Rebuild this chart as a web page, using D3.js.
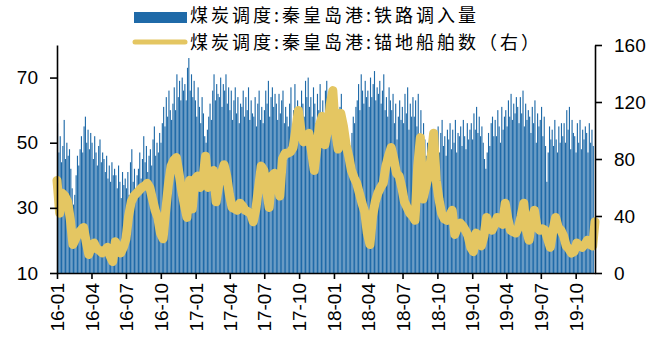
<!DOCTYPE html>
<html>
<head>
<meta charset="utf-8">
<script src="https://cdn.jsdelivr.net/npm/d3@7"></script>
<style>
  body { margin: 0; background: #fff; }
  svg text { font-family: "Liberation Sans", Arial, sans-serif; }
  .legend text { font-family: "Noto Sans CJK SC", sans-serif; letter-spacing: 3px; }
</style>
</head>
<body>
<div id="chart"></div>
<script>
// Series names
var barName = '煤炭调度:秦皇岛港:铁路调入量'
var lineName = '煤炭调度:秦皇岛港:锚地船舶数（右）'

// Railway inflow, one value every half week from 2016-01-01 (left axis)
var railStart = '2016-01-01'
var railValues = [
  56,47,52,44,49,57,45,50,46, 48,42,36,31,34,40,46,43,48, 52,47,55,58,50,54,48,53,
  50,45,52,47,43,49,51,44,47, 45,41,46,39,43,38,44,40,42, 40,36,43,38,33,41,37,39,
  36,41,34,44,48,38,42,35,40, 42,47,39,45,52,44,49,41,46, 48,43,51,55,46,50,47,53,
  50,56,61,55,64,58,66,60,57, 62,67,60,71,64,69,63,70,66, 68,63,73,76,66,71,64,69,
  63,58,67,61,56,64,59,52,50, 54,58,62,57,66,71,63,68,65, 64,70,61,68,66,71,62,67,
  60,66,57,63,67,59,64,56,62, 61,66,58,64,60,67,57,63,59, 58,64,55,62,66,57,61,56,
  60,66,62,69,58,64,67,61,65, 62,57,65,59,63,66,56,61,58, 55,62,67,53,60,68,57,63,
  60,56,66,62,58,69,64,70,61, 64,58,67,62,56,65,60,68,59, 63,57,66,69,60,64,58,62,
  60,55,64,58,52,61,65,56,59, 57,52,48,50,46,53,58,56,61, 63,68,60,71,66,62,69,64,
  66,61,70,64,68,72,63,67,65, 69,62,66,71,60,64,58,67,63, 60,65,56,62,51,58,63,57,
  61,56,65,59,67,54,62,58,64, 58,63,55,65,52,60,48,56,51, 46,50,42,53,44,40,48,45,
  50,55,47,53,57,49,52,46,54, 51,56,48,54,50,57,47,53,52, 55,49,57,52,48,56,51,54,
  56,51,59,54,61,53,58,52,55, 50,45,42,47,53,49,56,58,52, 57,52,60,55,50,61,54,58,
  60,55,63,58,65,57,62,59,64, 61,56,64,59,66,55,62,57,60, 58,53,61,56,63,50,59,55,
  57,61,52,58,49,38,47,55,51, 54,49,57,51,47,55,50,56,52, 56,50,60,54,61,48,57,53,
  52,47,56,50,57,48,54,51,55, 53,47,56,50,54,49
]

// Anchored ships, one value per week from 2016-01-01 (right axis)
var shipStart = '2016-01-01'
var shipValues = [
  65,42,56,54,50,38,20,24,28,30, 32,22,13,19,21,17,16,14,16,18,
  12,8,22,17,14,18,24,40,50,54, 56,58,60,61,63,60,52,44,39,28,
  24,44,62,75,79,81,70,58,48,39, 65,45,66,68,60,66,82,60,66,72,
  50,62,70,76,68,55,46,45,44,49, 47,44,43,42,36,45,60,75,72,58,
  46,68,70,65,54,80,84,84,85,88, 100,114,100,92,95,98,85,72,88,104,
  110,90,100,118,128,100,87,112,103,90, 82,72,67,63,56,49,43,28,20,40,
  50,56,60,63,75,82,88,80,70,68, 60,50,46,42,40,37,75,95,52,60,
  68,80,98,65,52,42,38,37,40,44, 27,32,35,33,30,26,18,15,28,26,
  19,26,39,33,30,34,39,36,34,49, 38,30,29,28,32,40,49,30,23,38,
  44,32,30,31,30,24,18,30,39,32, 30,26,19,17,14,15,21,19,18,20,
  23,20,19,36
]

var leftTicks = [10, 30, 50, 70]
var rightTicks = [0, 40, 80, 120, 160]
var xTickDates = ['2016-01-01', '2016-04-01', '2016-07-01', '2016-10-01',
  '2017-01-01', '2017-04-01', '2017-07-01', '2017-10-01',
  '2018-01-01', '2018-04-01', '2018-07-01', '2018-10-01',
  '2019-01-01', '2019-04-01', '2019-07-01', '2019-10-01']

var width = 664
var height = 340
var margin = { top: 45, right: 69, bottom: 67, left: 57 }
var chartRight = width - margin.right
var chartBottom = height - margin.bottom

var parse = d3.timeParse('%Y-%m-%d')
var fmt = d3.timeFormat('%y-%m')

var railData = railValues.map(function (v, i) {
  return { date: d3.timeHour.offset(parse(railStart), i * 84), value: v }
})
var shipData = shipValues.map(function (v, i) {
  return { date: d3.timeDay.offset(parse(shipStart), i * 7), value: v }
})

var x = d3.scaleTime()
  .domain([parse('2016-01-01'), parse('2019-11-21')])
  .range([margin.left, chartRight])

var yLeft = d3.scaleLinear()
  .domain([10, 80])
  .range([chartBottom, margin.top])

var yRight = d3.scaleLinear()
  .domain([0, 160])
  .range([chartBottom, margin.top])

var barColor = '#1f6aa8'
var lineColor = '#e4c662'

var svg = d3.select('#chart').append('svg')
  .attr('width', width)
  .attr('height', height)

// Bars
var barW = x(railData[1].date) - x(railData[0].date)
svg.append('g')
  .selectAll('rect')
  .data(railData)
  .enter().append('rect')
  .attr('x', function (d) { return x(d.date) })
  .attr('y', function (d) { return yLeft(d.value) })
  .attr('width', barW * 0.85)
  .attr('height', function (d) { return chartBottom - yLeft(d.value) })
  .attr('fill', barColor)

// Line
var line = d3.line()
  .x(function (d) { return Math.min(x(d.date), chartRight) })
  .y(function (d) { return yRight(d.value) })

svg.append('path')
  .datum(shipData)
  .attr('d', line)
  .attr('fill', 'none')
  .attr('stroke', lineColor)
  .attr('stroke-width', 9)
  .attr('stroke-linejoin', 'round')
  .attr('stroke-linecap', 'round')

// Axes
var fontSize = '19px'

var gLeft = svg.append('g')
  .attr('transform', 'translate(' + margin.left + ',0)')
  .call(d3.axisLeft(yLeft).tickValues(leftTicks).tickSize(7).tickSizeOuter(0).tickPadding(12))
gLeft.selectAll('text').style('font-size', fontSize).attr('fill', '#000')

var gRight = svg.append('g')
  .attr('transform', 'translate(' + chartRight + ',0)')
  .call(d3.axisRight(yRight).tickValues(rightTicks).tickSize(7).tickSizeOuter(0).tickPadding(12))
gRight.selectAll('text').style('font-size', fontSize).attr('fill', '#000')

var gBottom = svg.append('g')
  .attr('transform', 'translate(0,' + chartBottom + ')')
  .call(d3.axisBottom(x).tickValues(xTickDates.map(parse)).tickFormat(fmt).tickSize(6).tickSizeOuter(0))
gBottom.selectAll('text')
  .style('font-size', fontSize)
  .attr('fill', '#000')
  .attr('transform', 'rotate(-90)')
  .attr('text-anchor', 'end')
  .attr('x', -10)
  .attr('y', 0)
  .attr('dy', '0.35em')

svg.selectAll('.domain, .tick line')
  .attr('stroke', '#000')
  .attr('stroke-width', 1.6)

// Legend
var legend = svg.append('g').attr('class', 'legend')
legend.append('rect')
  .attr('x', 134)
  .attr('y', 12)
  .attr('width', 53)
  .attr('height', 11)
  .attr('fill', barColor)
legend.append('text')
  .attr('x', 190)
  .attr('y', 16)
  .attr('dy', '0.35em')
  .style('font-size', '18px')
  .text(barName)

legend.append('line')
  .attr('x1', 135)
  .attr('x2', 185)
  .attr('y1', 42)
  .attr('y2', 42)
  .attr('stroke', lineColor)
  .attr('stroke-width', 5)
  .attr('stroke-linecap', 'round')
legend.append('text')
  .attr('x', 190)
  .attr('y', 43)
  .attr('dy', '0.35em')
  .style('font-size', '18px')
  .text(lineName)
</script>
</body>
</html>
